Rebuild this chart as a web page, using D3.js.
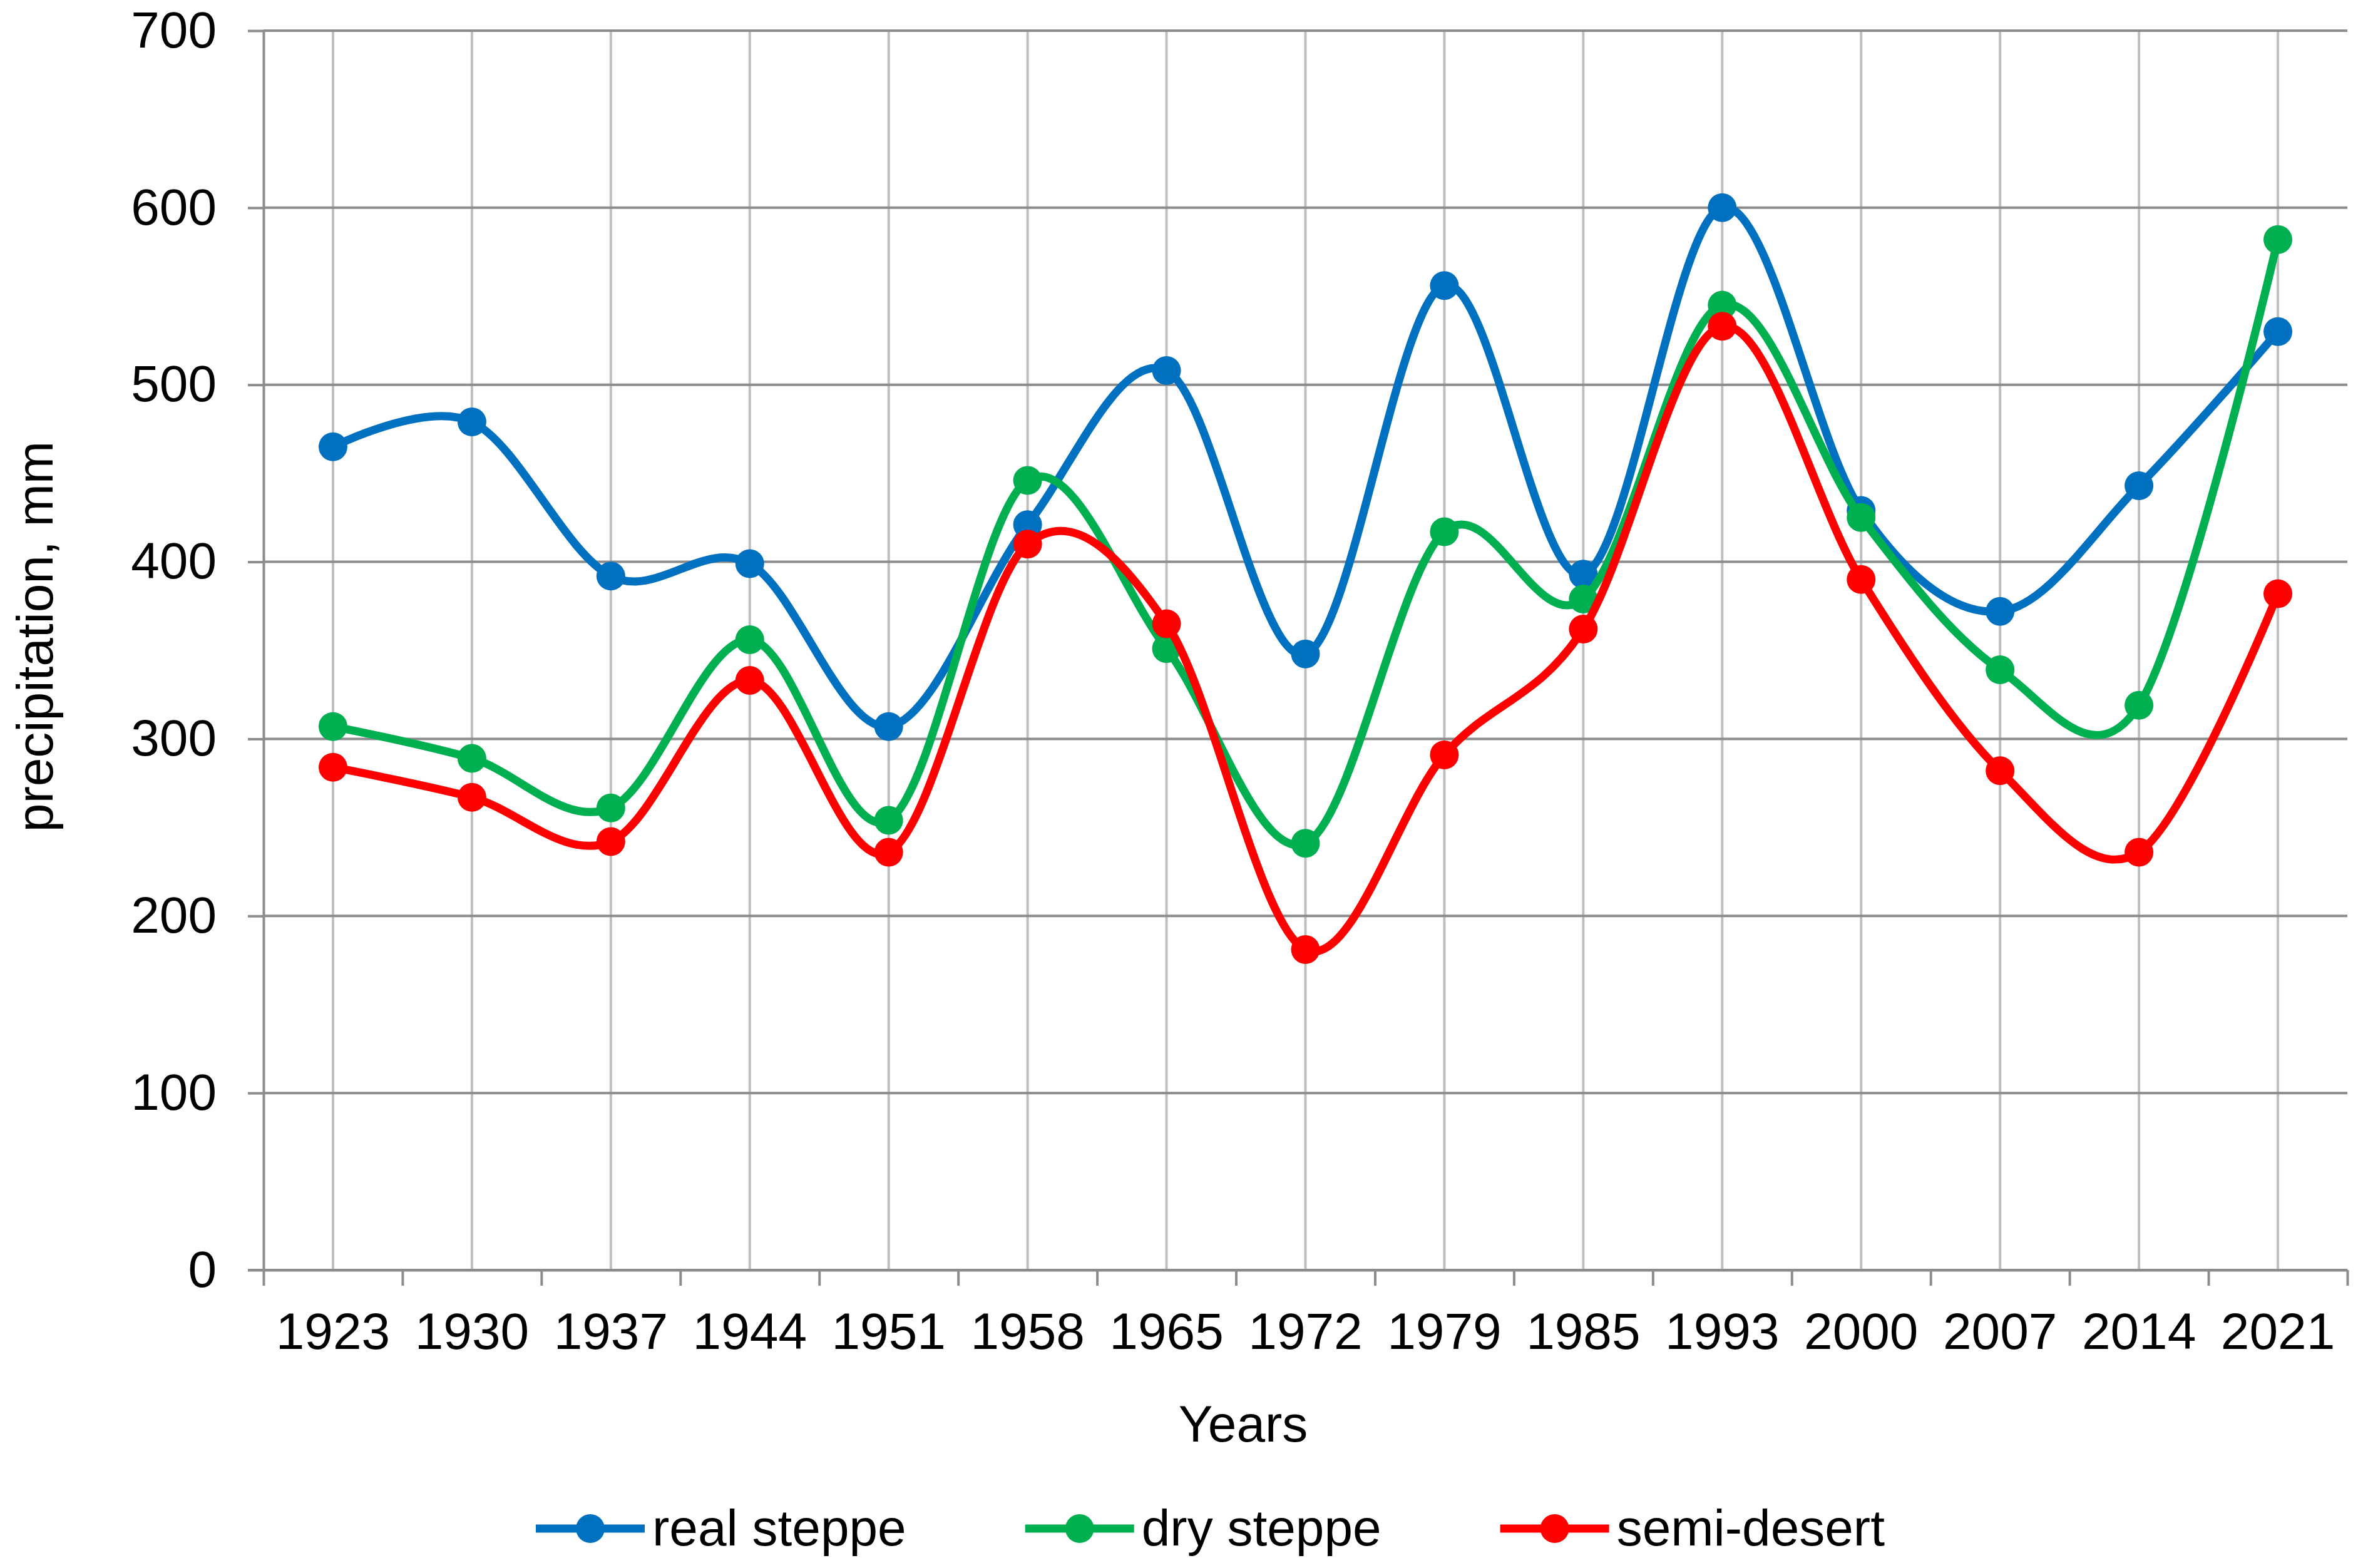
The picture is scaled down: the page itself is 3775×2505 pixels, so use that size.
<!DOCTYPE html>
<html>
<head>
<meta charset="utf-8">
<script src="https://cdn.jsdelivr.net/npm/d3@7"></script>
<style>
  body { margin: 0; background: #fff; }
  text { font-family: "Liberation Sans", Arial, sans-serif; fill: #000; }
</style>
</head>
<body>
<svg id="svgRoot" width="3775" height="2505"></svg>
<script>

// data
let years = ["1923", "1930", "1937", "1944", "1951", "1958", "1965", "1972",
             "1979", "1985", "1993", "2000", "2007", "2014", "2021"]

let real_steppe = [465, 479, 392, 399, 307, 421, 508, 348, 556, 393, 600, 429, 372, 443, 530]
let dry_steppe  = [307, 289, 261, 356, 254, 446, 351, 241, 417, 379, 545, 425, 339, 319, 582]
let semi_desert = [284, 267, 242, 333, 236, 410, 365, 181, 291, 362, 533, 390, 282, 236, 382]

let series_names = ["real steppe", "dry steppe", "semi-desert"]
let series_colors = ["#0070C0", "#00B050", "#FF0000"]
let y_ticks = [0, 100, 200, 300, 400, 500, 600, 700]


function draw_vis() {

  let svg = d3.select("#svgRoot")

  const margin = {
    top: 49,
    left: 421,
    bottom: 476,
    right: 25,
  }

  let width = 3775
  let height = 2505
  let fontSize = 82

  let scale_x = d3
    .scaleBand()
    .domain(years)
    .range([margin.left, width - margin.right])
    .padding(0)

  // same range, used for the tick marks between categories
  let scale_edges = d3
    .scaleLinear()
    .domain([0, years.length])
    .range([margin.left, width - margin.right])

  let scale_y = d3
    .scaleLinear()
    .domain([0, 700])
    .range([height - margin.bottom, margin.top])

  let cx = (d) => scale_x(d) + scale_x.bandwidth() / 2

  //grid
  let g_grid = svg.append("g").attr("class", "g_grid")

  g_grid.selectAll(".vgrid")
    .data(years)
    .enter()
    .append("line")
    .attr("x1", cx)
    .attr("x2", cx)
    .attr("y1", scale_y(700))
    .attr("y2", scale_y(0))
    .attr("stroke", "#BFBFBF")
    .attr("stroke-width", 4)

  g_grid.selectAll(".hgrid")
    .data(y_ticks.slice(1))
    .enter()
    .append("line")
    .attr("x1", margin.left)
    .attr("x2", width - margin.right)
    .attr("y1", (d) => scale_y(d))
    .attr("y2", (d) => scale_y(d))
    .attr("stroke", "#8C8C8C")
    .attr("stroke-width", 4)

  //axes
  let g_yAxis = svg.append("g").attr("class", "g_yAxis")
    .attr("transform", "translate(" + margin.left + ", 0)")
    .call(d3.axisLeft(scale_y).tickValues(y_ticks).tickSize(25).tickPadding(50).tickSizeOuter(0))

  let g_xTicks = svg.append("g").attr("class", "g_xTicks")
    .attr("transform", "translate(0, " + (height - margin.bottom) + ")")
    .call(d3.axisBottom(scale_edges).ticks(years.length).tickSize(25).tickSizeOuter(0).tickFormat(""))

  let g_xAxis = svg.append("g").attr("class", "g_xAxis")
    .attr("transform", "translate(0, " + (height - margin.bottom) + ")")
    .call(d3.axisBottom(scale_x).tickSize(0).tickPadding(68))

  svg.selectAll(".g_yAxis path, .g_xTicks path, .g_xAxis path")
    .attr("stroke", "#8C8C8C").attr("stroke-width", 4)
  svg.selectAll(".g_yAxis line, .g_xTicks line")
    .attr("stroke", "#8C8C8C").attr("stroke-width", 4)
  svg.selectAll(".g_yAxis text, .g_xAxis text")
    .attr("font-family", "Liberation Sans, Arial, sans-serif")
    .attr("font-size", fontSize)
    .attr("fill", "#000")
  svg.selectAll(".g_xAxis path").attr("d", "M" + (margin.left - 25) + ",0H" + (width - margin.right))

  //axis titles
  svg.append("text")
    .attr("x", 1986)
    .attr("y", 2303)
    .attr("text-anchor", "middle")
    .attr("font-size", fontSize)
    .text("Years")

  svg.append("text")
    .attr("transform", "translate(84, 1017) rotate(-90)")
    .attr("text-anchor", "middle")
    .attr("font-size", fontSize)
    .text("precipitation, mm")

  //lines
  let all_series = [real_steppe, dry_steppe, semi_desert]

  let line = d3.line()
    .x((d, i) => cx(years[i]))
    .y((d) => scale_y(d))
    .curve(d3.curveCardinal.tension(0))

  let g_lines = svg.append("g").attr("class", "g_lines")

  all_series.forEach((values, k) => {
    let g = g_lines.append("g")
    g.append("path")
      .attr("d", line(values))
      .attr("fill", "none")
      .attr("stroke", series_colors[k])
      .attr("stroke-width", 13)
      .attr("stroke-linecap", "round")

    g.selectAll(".dot")
      .data(values)
      .enter()
      .append("circle")
      .attr("class", "dot")
      .attr("cx", (d, i) => cx(years[i]))
      .attr("cy", (d) => scale_y(d))
      .attr("r", 23)
      .attr("fill", series_colors[k])
  })

  //legend
  let g_legend = svg.append("g").attr("class", "g_legend")
  let lx = 856
  let ly = 2442
  series_names.forEach((name, k) => {
    let item = g_legend.append("g").attr("transform", "translate(" + lx + "," + ly + ")")
    item.append("line")
      .attr("x1", 0).attr("x2", 174)
      .attr("stroke", series_colors[k])
      .attr("stroke-width", 13)
    item.append("circle")
      .attr("cx", 87).attr("r", 23)
      .attr("fill", series_colors[k])
    let t = item.append("text")
      .attr("x", 186)
      .attr("y", 27)
      .attr("font-size", fontSize)
      .text(name)
    lx += 186 + t.node().getComputedTextLength() + 190
  })
}

draw_vis()
</script>
</body>
</html>
